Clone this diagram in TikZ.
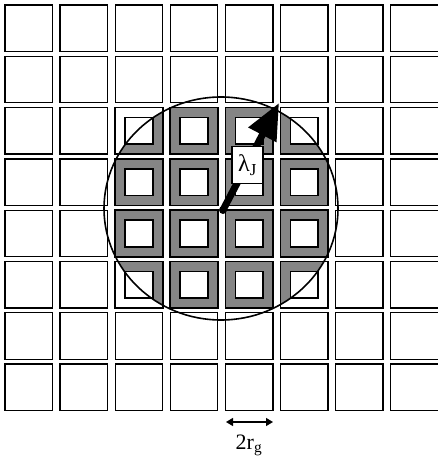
\documentclass[tikz,border=0pt]{standalone}
\usepackage{fontspec}
\setmainfont{Liberation Serif}
\usetikzlibrary{arrows.meta,calc,positioning}

\tikzset{
  cell/.style={draw=black,line width=1.3pt},
  hotcell/.style={draw=black,line width=1.8pt},
  ring/.style={fill=black!48,even odd rule},
  labelbox/.style={draw=black,fill=white,line width=1.2pt,inner sep=1pt,minimum width=31pt,minimum height=37pt},
}

\begin{document}
\begin{tikzpicture}[x=1pt,y=1pt,yscale=-1,xscale=1]
\useasboundingbox (0,0) rectangle (438,457);

% shaded rings, only inside the circle
\begin{scope}
\clip (221,208.5) ellipse [x radius=117,y radius=111.5];
\foreach \i in {2,...,5}
  \foreach \j in {2,...,5}
    \fill[ring] ({5+55.1*\i},{5+51.3*\j}) rectangle +(47.5,46.5)
                ({15+55.1*\i},{15+51.3*\j}) rectangle +(27.5,26.5);
\end{scope}

% the grid
\foreach \i in {0,...,7}
  \foreach \j in {0,...,7}
    \draw[cell] ({5+55.1*\i},{5+51.3*\j}) rectangle +(47.5,46.5);
\foreach \i in {2,...,5}
  \foreach \j in {2,...,5}
    {\draw[hotcell] ({5+55.1*\i},{5+51.3*\j}) rectangle +(47.5,46.5);
     \draw[hotcell] ({15+55.1*\i},{15+51.3*\j}) rectangle +(27.5,26.5);}

\draw[line width=1.6pt] (221,208.5) ellipse [x radius=117,y radius=111.5];

\coordinate (centre) at (223,210);
\coordinate (tip) at (279,103);
\fill (centre) circle (4);
\draw[line width=7pt,-{Triangle[length=36pt,width=30pt]}] (centre) -- (tip);

\node[labelbox,font=\fontsize{24}{24}\selectfont] (lambda) at (247.5,165) {λ\textsubscript{J}};

\coordinate (rgleft) at (226,422);
\coordinate (rgright) at (273,422);
\draw[line width=1.3pt,{Triangle[length=7pt,width=8pt]}-{Triangle[length=7pt,width=8pt]}] (rgleft) -- (rgright);

\node[font=\fontsize{22}{22}\selectfont] (rg) at (249,445) {2r\textsubscript{g}};

\end{tikzpicture}
\end{document}
